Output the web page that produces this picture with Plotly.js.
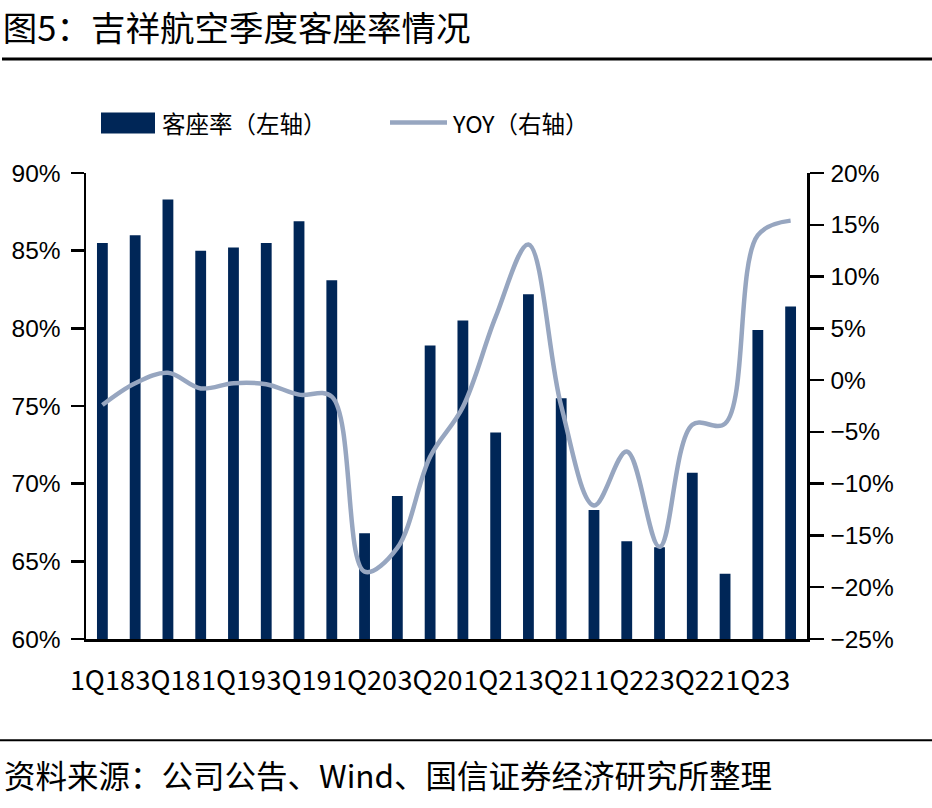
<!DOCTYPE html>
<html>
<head>
<meta charset="utf-8">
<script src="https://cdn.plot.ly/plotly-3.0.1.min.js"></script>
<style>
html,body{margin:0;padding:0;background:#fff;}
#chart{width:932px;height:808px;}
</style>
</head>
<body>
<div id="chart"></div>
<script>
// ---- data ----
var quarters = ['1Q18','2Q18','3Q18','4Q18','1Q19','2Q19','3Q19','4Q19','1Q20','2Q20','3Q20','4Q20','1Q21','2Q21','3Q21','4Q21','1Q22','2Q22','3Q22','4Q22','1Q23','2Q23'];
var loadFactor = [85.5, 86.0, 88.3, 85.0, 85.2, 85.5, 86.9, 83.1, 66.8, 69.2, 78.9, 80.5, 73.3, 82.2, 75.5, 68.3, 66.3, 65.9, 70.7, 64.2, 79.9, 81.4];
var yoy = [-2.4, -0.3, 0.7, -0.8, -0.3, -0.4, -1.4, -1.6, -18.5, -16.2, -7.4, -2.6, 6.1, 13.1, -2.5, -12.1, -6.9, -16.1, -4.3, -4.2, 14.0, 15.4];
var tickLabels = ['1Q18','3Q18','1Q19','3Q19','1Q20','3Q20','1Q21','3Q21','1Q22','3Q22','1Q23'];
var seriesNames = ['客座率（左轴）', 'YOY（右轴）'];
var titleText = '图5：吉祥航空季度客座率情况';
var sourceText = '资料来源：公司公告、Wind、国信证券经济研究所整理';

// ---- style ----
var BAR = '#002657';
var LINE = '#97A6C0';
var CJK = '"Noto Sans CJK SC", "Noto Sans", sans-serif';
var LAT = '"Liberation Sans", Arial, sans-serif';

// plot area in pixels
var L = 86, R = 125, T = 172.5, B = 168.7, W = 932, H = 808;
var pw = W - L - R, ph = H - T - B;
function xp(px){ return (px - L) / pw; }
function yp(py){ return (H - B - py) / ph; }

var traces = [
  {
    type: 'bar', name: seriesNames[0], x: quarters, y: loadFactor,
    marker: {color: BAR}, yaxis: 'y', showlegend: false, hoverinfo: 'x+y'
  },
  {
    type: 'scatter', mode: 'lines', name: seriesNames[1], x: quarters, y: yoy,
    line: {color: LINE, width: 4.5, shape: 'spline', smoothing: 1},
    yaxis: 'y2', showlegend: false
  }
];

var layout = {
  width: W, height: H,
  margin: {l: L, r: R, t: T, b: B, pad: 0},
  paper_bgcolor: '#fff', plot_bgcolor: '#fff',
  bargap: 0.67,
  showlegend: false,
  title: {
    text: titleText, x: 0.003, xref: 'container', xanchor: 'left',
    y: 1 - 29/808, yref: 'container', yanchor: 'middle',
    font: {family: CJK, size: 34.5, color: '#000'}
  },
  xaxis: {
    type: 'category', range: [-0.5, 21.5],
    tickmode: 'array', tickvals: tickLabels, ticktext: tickLabels,
    tickangle: 0, ticks: '', showgrid: false, zeroline: false,
    showline: true, linecolor: '#000', linewidth: 2.5,
    tickfont: {family: CJK, size: 27, color: '#000'},
    ticklabelstandoff: 16, fixedrange: true
  },
  yaxis: {
    range: [60, 90], tickmode: 'linear', tick0: 60, dtick: 5, ticksuffix: '%',
    showgrid: false, zeroline: false, showline: true, linecolor: '#000', linewidth: 2.5,
    ticks: 'outside', ticklen: 13, tickwidth: 2.5, tickcolor: '#000',
    tickfont: {family: LAT, size: 24.5, color: '#000'}, ticklabelstandoff: 5
  },
  yaxis2: {
    overlaying: 'y', side: 'right',
    range: [-25, 20], tickmode: 'linear', tick0: -25, dtick: 5, ticksuffix: '%',
    showgrid: false, zeroline: false, showline: true, linecolor: '#000', linewidth: 2.5,
    ticks: 'outside', ticklen: 14, tickwidth: 2.5, tickcolor: '#000',
    tickfont: {family: LAT, size: 24.5, color: '#000'}, ticklabelstandoff: 2
  },
  shapes: [
    // title underline
    {type: 'line', xref: 'paper', yref: 'paper', x0: xp(2), x1: xp(932), y0: yp(58.3), y1: yp(58.3),
     line: {color: '#000', width: 3}},
    // footer line
    {type: 'line', xref: 'paper', yref: 'paper', x0: xp(0), x1: xp(932), y0: yp(740.7), y1: yp(740.7),
     line: {color: '#000', width: 2}},
    // legend: bar swatch
    {type: 'rect', xref: 'paper', yref: 'paper', x0: xp(101), x1: xp(155), y0: yp(133), y1: yp(112),
     fillcolor: BAR, line: {width: 0}},
    // legend: line swatch
    {type: 'line', xref: 'paper', yref: 'paper', x0: xp(390), x1: xp(447), y0: yp(122), y1: yp(122),
     line: {color: LINE, width: 4.5}}
  ],
  annotations: [
    {text: seriesNames[0], xref: 'paper', yref: 'paper', x: xp(160), y: yp(122),
     xanchor: 'left', yanchor: 'middle', showarrow: false,
     font: {family: CJK, size: 23.5, color: '#000'}},
    {text: seriesNames[1], xref: 'paper', yref: 'paper', x: xp(450), y: yp(122),
     xanchor: 'left', yanchor: 'middle', showarrow: false,
     font: {family: CJK, size: 23.5, color: '#000'}},
    {text: sourceText, xref: 'paper', yref: 'paper', x: xp(2), y: yp(775),
     xanchor: 'left', yanchor: 'middle', showarrow: false,
     font: {family: CJK, size: 31.5, color: '#000'}}
  ]
};

Plotly.newPlot('chart', traces, layout, {displayModeBar: false, staticPlot: true});
</script>
</body>
</html>
